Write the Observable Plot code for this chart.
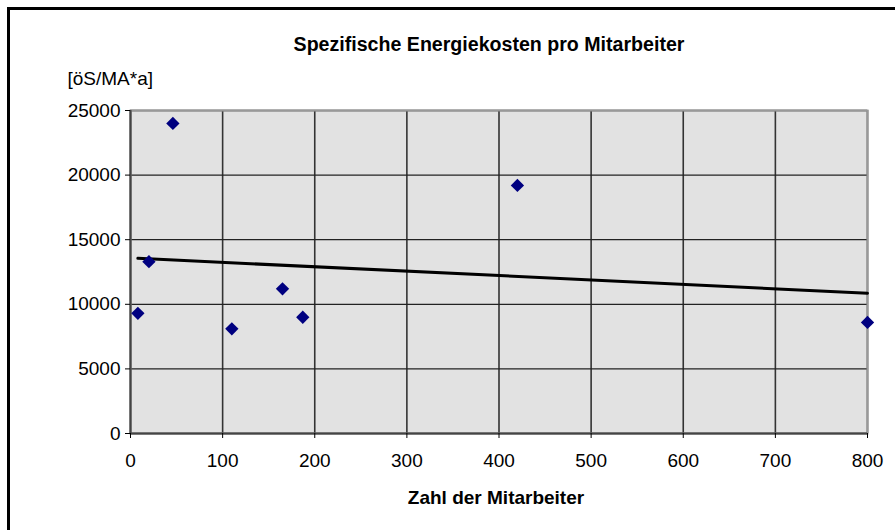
<!DOCTYPE html>
<html>
<head>
<meta charset="utf-8">
<script src="https://cdn.jsdelivr.net/npm/d3@7"></script>
<script src="https://cdn.jsdelivr.net/npm/@observablehq/plot@0.6"></script>
<style>
  body { margin: 0; background: #fff; }
  #wrap { position: relative; width: 895px; height: 530px; overflow: hidden; }
  #deco { position: absolute; left: 7px; top: 7px; width: 1000px; height: 1000px;
          border-top: 3px solid #000; border-left: 3px solid #000; pointer-events: none; }
</style>
</head>
<body>
<div id="wrap"><div id="deco"></div></div>
<script>
const titleText = "Spezifische Energiekosten pro Mitarbeiter";
const xLabel = "Zahl der Mitarbeiter";
const yLabel = "[öS/MA*a]";
const mitarbeiter = [8, 20, 46, 110, 165, 187, 420, 800];
const kosten = [9300, 13300, 24000, 8100, 11200, 9000, 19200, 8600];
const xTicks = [0, 100, 200, 300, 400, 500, 600, 700, 800];
const yTicks = [0, 5000, 10000, 15000, 20000, 25000];

const data = mitarbeiter.map((m, i) => ({x: m, y: kosten[i]}));
const fmt = d => String(d);

const chart = Plot.plot({
  width: 895,
  height: 530,
  marginLeft: 130,
  marginRight: 28,
  marginTop: 110,
  marginBottom: 97,
  style: {fontFamily: "Liberation Sans, Arial, sans-serif", fontSize: "19px", background: "transparent", color: "#000"},
  x: {domain: [0, 800]},
  y: {domain: [0, 25000]},
  marks: [
    Plot.frame({fill: "#e2e2e2", stroke: null}),
    Plot.gridX(xTicks, {stroke: "#333", strokeOpacity: 1, strokeWidth: 1.6}),
    Plot.gridY(yTicks, {stroke: "#222", strokeOpacity: 1, strokeWidth: 1.3}),
    Plot.frame({stroke: "#999", strokeWidth: 2}),
    Plot.ruleX([0], {stroke: "#444", strokeWidth: 2}),
    Plot.ruleY([0], {stroke: "#444", strokeWidth: 2}),
    Plot.axisX({ticks: xTicks, tickFormat: fmt, tickSize: 5, tickPadding: 15, label: null, fontSize: 19}),
    Plot.axisY({ticks: yTicks, tickFormat: fmt, tickSize: 5, tickPadding: 5, label: null, fontSize: 19}),
    Plot.linearRegressionY(data, {x: "x", y: "y", stroke: "#000", strokeWidth: 3, ci: 0}),
    Plot.dot(data, {x: "x", y: "y", symbol: "diamond2", r: 6, fill: "#000080", stroke: "none"}),
    Plot.text([titleText], {frameAnchor: "top", dx: -10, dy: -60, lineAnchor: "bottom", fontWeight: "bold", fontSize: 19.6}),
    Plot.text([yLabel], {frameAnchor: "top-left", textAnchor: "start", dx: -63, dy: -26, lineAnchor: "bottom", fontSize: 19}),
    Plot.text([xLabel], {frameAnchor: "bottom", dx: -3, dy: 70, lineAnchor: "bottom", fontWeight: "bold", fontSize: 19})
  ]
});
document.getElementById("wrap").prepend(chart);
</script>
</body>
</html>
